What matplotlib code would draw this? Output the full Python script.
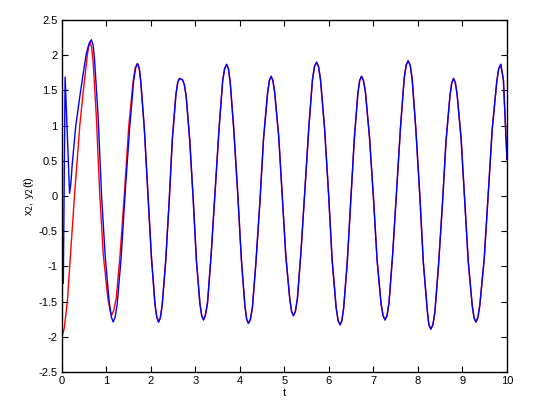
import matplotlib

matplotlib.use("Agg")
import matplotlib.pyplot as plt
from matplotlib.ticker import FormatStrFormatter

# Red curve, start of the run (before it joins the blue one)
red_t_head = [0.00, 0.05, 0.12, 0.20, 0.28, 0.34, 0.40, 0.48, 0.57, 0.60, 0.63,
              0.665, 0.70, 0.77, 0.85, 0.93, 1.03, 1.08, 1.12,
              1.165, 1.22, 1.31, 1.41, 1.50, 1.60, 1.645, 1.69]
red_y_head = [-2.00, -1.88, -1.50, -0.75, 0.00, 0.50, 1.00, 1.50, 2.00, 2.12, 2.19,
              2.11, 1.90, 1.15, 0.00, -0.85, -1.45, -1.63, -1.69,
              -1.62, -1.45, -0.80, 0.10, 0.99, 1.64, 1.82, 1.88]

# Blue curve, start of the run
blue_t_head = [0.03, 0.07, 0.17, 0.20, 0.23, 0.31, 0.42, 0.54, 0.60, 0.63, 0.66,
               0.70, 0.73, 0.81, 0.89, 0.97, 1.06, 1.11, 1.15,
               1.195, 1.24, 1.33, 1.42, 1.52, 1.61, 1.655, 1.70]
blue_y_head = [-1.24, 1.69, 0.04, 0.18, 0.45, 1.00, 1.50, 2.00, 2.15, 2.19, 2.22,
               2.14, 1.95, 1.15, 0.00, -0.85, -1.50, -1.72, -1.79,
               -1.72, -1.54, -0.87, 0.05, 0.96, 1.63, 1.82, 1.88]

# Both curves overlap from here on
tail_t = [1.735, 1.77, 1.85, 1.93, 2.01, 2.09, 2.13, 2.17,
          2.21, 2.25, 2.33, 2.41, 2.48, 2.56, 2.60, 2.64, 2.71,
          2.75, 2.79, 2.87, 2.95, 3.02, 3.10, 3.14, 3.18,
          3.22, 3.27, 3.35, 3.44, 3.53, 3.61, 3.655, 3.70,
          3.74, 3.78, 3.86, 3.95, 4.03, 4.11, 4.15, 4.19,
          4.235, 4.28, 4.36, 4.45, 4.53, 4.62, 4.66, 4.70,
          4.74, 4.78, 4.87, 4.95, 5.03, 5.12, 5.16, 5.20,
          5.245, 5.29, 5.37, 5.46, 5.55, 5.63, 5.675, 5.72,
          5.765, 5.81, 5.90, 5.99, 6.07, 6.16, 6.205, 6.25,
          6.29, 6.33, 6.41, 6.49, 6.57, 6.65, 6.69, 6.73,
          6.775, 6.82, 6.91, 7.00, 7.08, 7.17, 7.215, 7.26,
          7.305, 7.35, 7.43, 7.52, 7.61, 7.69, 7.735, 7.78,
          7.825, 7.87, 7.95, 8.04, 8.12, 8.21, 8.245, 8.29,
          8.335, 8.38, 8.46, 8.55, 8.63, 8.72, 8.76, 8.80,
          8.84, 8.88, 8.97, 9.05, 9.13, 9.22, 9.26, 9.30,
          9.345, 9.39, 9.49, 9.58, 9.67, 9.77, 9.815, 9.86,
          9.92, 10.00]
tail_y = [1.82, 1.63, 0.96, 0.05, -0.87, -1.54, -1.72, -1.79,
          -1.73, -1.56, -0.93, -0.06, 0.81, 1.44, 1.61, 1.67, 1.65,
          1.58, 1.42, 0.80, -0.06, -0.91, -1.53, -1.70, -1.76,
          -1.70, -1.52, -0.85, 0.06, 0.96, 1.63, 1.81, 1.87,
          1.81, 1.62, 0.95, 0.03, -0.89, -1.56, -1.75, -1.81,
          -1.75, -1.58, -0.93, -0.06, 0.82, 1.46, 1.64, 1.70,
          1.64, 1.47, 0.85, 0.00, -0.85, -1.47, -1.64, -1.70,
          -1.64, -1.46, -0.80, 0.10, 1.00, 1.66, 1.84, 1.90,
          1.84, 1.65, 0.97, 0.04, -0.90, -1.58, -1.77, -1.83,
          -1.77, -1.59, -0.95, -0.07, 0.82, 1.46, 1.64, 1.70,
          1.64, 1.47, 0.84, -0.03, -0.90, -1.53, -1.70, -1.76,
          -1.70, -1.51, -0.84, 0.08, 1.00, 1.67, 1.86, 1.92,
          1.86, 1.66, 0.97, 0.02, -0.94, -1.63, -1.83, -1.89,
          -1.83, -1.65, -1.00, -0.11, 0.78, 1.43, 1.61, 1.67,
          1.61, 1.44, 0.81, -0.06, -0.93, -1.56, -1.73, -1.79,
          -1.73, -1.55, -0.88, 0.04, 0.96, 1.62, 1.81, 1.87,
          1.65, 0.52]

x_ticks = [0, 1, 2, 3, 4, 5, 6, 7, 8, 9, 10]
y_ticks = [-2.5, -2, -1.5, -1, -0.5, 0, 0.5, 1, 1.5, 2, 2.5]

plt.rcParams["font.family"] = ["Liberation Sans", "DejaVu Sans"]

fig = plt.figure(figsize=(5.6, 4.01), dpi=100)
ax = fig.add_axes([0.1107, 0.0723, 0.7946, 0.8778])

ax.plot(red_t_head + tail_t, red_y_head + tail_y, color="red", lw=1.0)
ax.plot(blue_t_head + tail_t, blue_y_head + tail_y, color="blue", lw=1.0)

ax.set_xlim(0, 10)
ax.set_ylim(-2.5, 2.5)
ax.set_xticks(x_ticks)
ax.set_yticks(y_ticks)
ax.yaxis.set_major_formatter(FormatStrFormatter("%g"))
ax.tick_params(direction="in", top=True, right=True, length=4, width=0.8,
               labelsize=8, pad=3)
for s in ax.spines.values():
    s.set_linewidth(1.0)

ax.set_xlabel("t", fontsize=8, labelpad=1)
ax.set_ylabel("x$_2$, y$_2$(t)", fontsize=8, labelpad=2)

plt.savefig("out.png", dpi=100)
